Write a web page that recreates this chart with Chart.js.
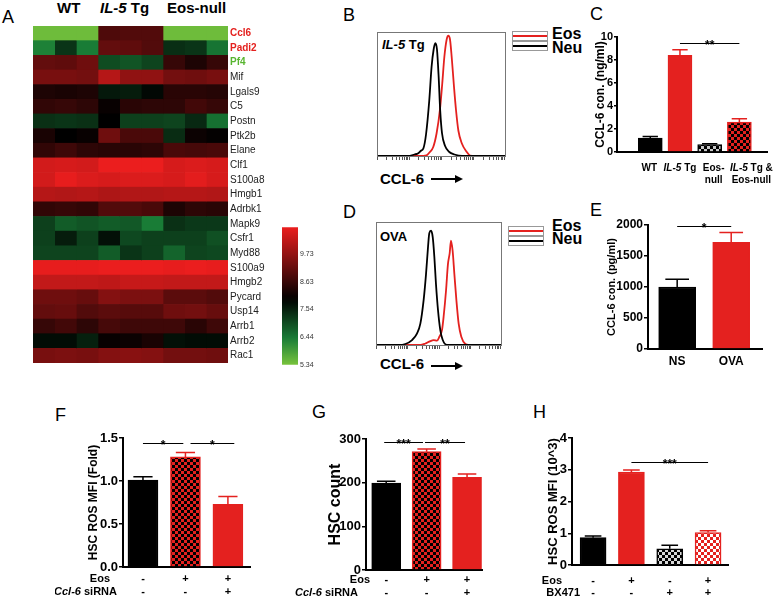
<!DOCTYPE html>
<html>
<head>
<meta charset="utf-8">
<script src="https://cdn.jsdelivr.net/npm/chart.js@4.4.0/dist/chart.umd.min.js"></script>
<style>
body{margin:0;width:777px;height:600px;position:relative;background:#fff;overflow:hidden;font-family:"Liberation Sans",Arial,sans-serif}
.p{position:absolute}
.t{position:absolute;line-height:1;white-space:nowrap;color:#000}
.L{font-size:18px}
.b{font-weight:bold}
.arrow{position:absolute;width:25px;height:2px;background:#000}
.arrow:after{content:"";position:absolute;right:-7px;top:-3px;border-left:8px solid #000;border-top:4px solid transparent;border-bottom:4px solid transparent}
.sw{position:absolute;width:34px;height:8px;border:1px solid #999;background:#fff}
.sw i{position:absolute;left:0;right:0;top:3px;height:2px}
</style>
</head>
<body>

<!-- panel letters and free text -->
<div class="t L" style="left:2px;top:8px">A</div>
<div class="t L" style="left:343px;top:6px">B</div>
<div class="t L" style="left:590px;top:5px">C</div>
<div class="t L" style="left:343px;top:203px">D</div>
<div class="t L" style="left:590px;top:201px">E</div>
<div class="t L" style="left:55px;top:406px">F</div>
<div class="t L" style="left:312px;top:403px">G</div>
<div class="t L" style="left:533px;top:403px">H</div>

<div class="t b" style="left:57px;top:0px;font-size:15px">WT</div>
<div class="t b" style="left:100px;top:0px;font-size:15px"><i>IL-5</i> Tg</div>
<div class="t b" style="left:167px;top:0px;font-size:15px">Eos-null</div>

<div class="t b" style="left:382px;top:38px;font-size:13px"><i>IL-5</i> Tg</div>
<div class="t b" style="left:380px;top:230px;font-size:13px">OVA</div>
<div class="t b" style="left:380px;top:171px;font-size:15px">CCL-6</div>
<div class="arrow" style="left:431px;top:178px"></div>
<div class="t b" style="left:380px;top:356px;font-size:15px">CCL-6</div>
<div class="arrow" style="left:431px;top:365px"></div>

<div class="sw" style="left:512px;top:31px"><i style="background:#e4211f"></i></div>
<div class="sw" style="left:512px;top:41px"><i style="background:#000"></i></div>
<div class="t b" style="left:552px;top:26px;font-size:16px">Eos</div>
<div class="t b" style="left:552px;top:40px;font-size:16px">Neu</div>

<div class="sw" style="left:508px;top:226px"><i style="background:#e4211f"></i></div>
<div class="sw" style="left:508px;top:236px"><i style="background:#000"></i></div>
<div class="t b" style="left:552px;top:218px;font-size:16px">Eos</div>
<div class="t b" style="left:552px;top:231px;font-size:16px">Neu</div>

<div class="p" style="left:33px;top:18px;width:245px;height:353px"><canvas id="hm"></canvas></div>
<div class="p" style="left:282px;top:221px;width:40px;height:150px"><canvas id="cb"></canvas></div>
<div class="p" style="left:377px;top:32px;width:129px;height:129px"><canvas id="hb"></canvas></div>
<div class="p" style="left:376px;top:222px;width:126px;height:128px"><canvas id="hd"></canvas></div>
<div class="p" style="left:593px;top:20px;width:184px;height:172px"><canvas id="bc"></canvas></div>
<div class="p" style="left:605px;top:205px;width:161px;height:169px"><canvas id="be"></canvas></div>
<div class="p" style="left:55px;top:420px;width:199px;height:182px"><canvas id="bf"></canvas></div>
<div class="p" style="left:295px;top:420px;width:191px;height:185px"><canvas id="bg"></canvas></div>
<div class="p" style="left:536px;top:420px;width:196px;height:180px"><canvas id="bh"></canvas></div>

<script>
// ---- data ----
genes = ['Ccl6','Padi2','Pf4','Mif','Lgals9','C5','Postn','Ptk2b','Elane','Clf1','S100a8','Hmgb1',
         'Adrbk1','Mapk9','Csfr1','Myd88','S100a9','Hmgb2','Pycard','Usp14','Arrb1','Arrb2','Rac1']

wtExpr = [[5.45,5.45,5.45],[6.33,7.3,6.4],[9.15,9.1,9.3],[9.4,9.4,9.35],[8.3,8.25,8.3],[8.55,8.6,8.5],
          [7.35,7.3,7.35],[8.25,7.95,8.05],[8.55,8.7,8.5],[10.5,10.55,10.5],[10.5,10.75,10.6],[10.15,10.1,10.15],
          [8.55,8.6,8.55],[7.15,6.8,6.9],[7.15,7.6,7.15],[7.1,7.1,7.1],[10.75,10.75,10.75],[10.3,10.3,10.3],
          [9.3,9.3,9.2],[9.15,9.2,8.95],[8.6,8.75,8.5],[7.8,7.8,7.55],[9.4,9.45,9.4]]
il5Expr = [[8.9,8.95,8.95],[9.15,9.1,8.95],[7.0,6.9,7.1],[10.15,9.7,9.7],[7.65,7.6,7.85],[8.05,8.45,8.5],
           [7.95,7.15,7.15],[9.3,8.85,8.85],[8.45,8.45,8.5],[10.8,10.8,10.8],[10.55,10.6,10.6],[10.05,10.1,10.1],
           [8.95,8.95,8.85],[6.8,6.85,6.4],[7.75,7.05,7.15],[6.8,7.3,7.15],[10.8,10.8,10.8],[10.25,10.35,10.35],
           [9.55,9.45,9.45],[9.05,9.0,9.0],[8.8,8.7,8.7],[8.05,8.1,8.25],[9.55,9.6,9.55]]
eosNullExpr = [[5.45,5.45,5.45],[7.37,7.3,6.5],[8.6,8.3,8.6],[9.35,9.3,9.4],[8.45,8.45,8.4],[8.5,8.75,8.6],
               [7.1,7.45,6.55],[7.4,8.1,8.0],[8.85,8.8,8.85],[10.55,10.6,10.55],[10.55,10.7,10.55],[10.15,10.15,10.1],
               [8.3,8.5,8.45],[7.35,7.25,7.25],[7.15,7.15,6.95],[6.7,7.1,7.05],[10.75,10.8,10.75],[10.3,10.3,10.3],
               [9.05,9.05,8.95],[9.3,9.35,9.2],[8.7,8.45,8.7],[7.75,7.8,7.8],[9.35,9.35,9.3]]

scaleMin = 5.34
scaleMax = 10.8
scaleTicks = [5.34,6.44,7.54,8.63,9.73]

// flow histograms, x = % of channel range, y = % of max
bNeu = [[0,0.8],[24,0.8],[29,2],[32,3],[34,5],[36,7],[38,18],[40.5,45],[42.3,72],[43.9,86],[45.2,91],[46.5,86],
        [47.8,64],[49,37],[50.4,19],[52.7,9],[56,4],[60,2],[66,0.8],[100,0.8]]
bEos = [[0,0.8],[36,0.8],[38.4,1.3],[41,4],[43.6,8],[46.2,19],[48.8,38],[50.6,59],[52.2,80],[54,94],[55.3,97],
        [56.6,94],[57.9,80],[59.7,56],[61.3,37],[63.1,21],[65.7,11],[69.6,4],[72.2,1],[76,0.8],[100,0.8]]
dNeu = [[0,0.8],[18,0.8],[23.3,1.6],[28.6,4.8],[32.5,10],[35.2,18],[37.8,37],[39.7,58],[41.3,80],[42.3,91],
        [43.7,93],[45,88],[46.3,72],[47.6,50],[49.2,29],[51,13],[52.9,5],[56.3,0.8],[100,0.8]]
dEos = [[0,0.8],[35.2,0.8],[39.2,2],[42.3,3.5],[45.8,4.8],[48.4,4.3],[50.3,7.5],[52.4,13],[53.7,24],[55.6,45],
        [57.1,66],[58.5,75],[59.5,85],[60.8,77],[62.2,58],[63.8,37],[65.6,18],[67.7,7.5],[70.9,1.6],[73.5,0.8],[100,0.8]]

cLabels1 = ['WT',[['IL-5',1],[' Tg',0]],'Eos-',[['IL-5',1],[' Tg &',0]]]
cLabels2 = ['','','null','Eos-null']
cValues  = [1.2,8.4,0.65,2.6]
cErrors  = [1.35,8.9,0.72,2.9]
cTicks   = [0,2,4,6,8,10]

eLabels  = ['NS','OVA']
eValues  = [1000,1720]
eErrors  = [1125,1880]
eTicks   = [0,500,1000,1500,2000]

fEos     = ['-','+','+']
fSiRNA   = ['-','-','+']
fValues  = [1.01,1.28,0.73]
fErrors  = [1.05,1.33,0.82]
fTicks   = [0,0.5,1.0,1.5]

gEos     = ['-','+','+']
gSiRNA   = ['-','-','+']
gValues  = [199,271,212]
gErrors  = [203,277,220]
gTicks   = [0,100,200,300]

hEos     = ['-','+','-','+']
hBX471   = ['-','-','+','+']
hValues  = [0.86,2.93,0.51,1.02]
hErrors  = [0.91,2.99,0.62,1.08]
hTicks   = [0,1,2,3,4]

// ---- styling helpers ----
FONT = '"Liberation Sans", Arial, sans-serif'
Chart.defaults.font.family = FONT
Chart.defaults.color = '#000'
RED = '#e4211f'

function heat(v){
    const mid = 7.95
    if(v >= mid){
        const t = Math.min(1,(v-mid)/(scaleMax-mid))
        return 'rgb('+Math.round(235*t)+','+Math.round(30*t)+','+Math.round(30*t)+')'
    }
    const t = Math.min(1,(mid-v)/(mid-scaleMin))
    if(t < 0.6){
        const k = t/0.6
        return 'rgb('+Math.round(25*k)+','+Math.round(125*k)+','+Math.round(55*k)+')'
    }
    const k = (t-0.6)/0.4
    return 'rgb('+Math.round(25+95*k)+','+Math.round(125+70*k)+','+Math.round(55+5*k)+')'
}

function checker(ctx,a,b,s){
    const tile = document.createElement('canvas'); tile.width = tile.height = 2*s
    const g = tile.getContext('2d')
    g.fillStyle = a; g.fillRect(0,0,2*s,2*s)
    g.fillStyle = b; g.fillRect(0,0,s,s); g.fillRect(s,s,s,s)
    return ctx.createPattern(tile,'repeat')
}

function rich(ctx,parts,x,y,align,size){
    if(typeof parts === 'string') parts = [[parts,0]]
    const fonts = parts.map(p => (p[1]?'italic ':'')+'bold '+size+'px '+FONT)
    const ws = parts.map((p,i) => {ctx.font = fonts[i]; return ctx.measureText(p[0]).width})
    const total = ws.reduce((s,w) => s+w,0)
    let cx = align==='center' ? x-total/2 : align==='right' ? x-total : x
    ctx.textAlign = 'left'; ctx.textBaseline = 'middle'; ctx.fillStyle = '#000'
    parts.forEach((p,i) => {ctx.font = fonts[i]; ctx.fillText(p[0],cx,y); cx += ws[i]})
}

// error bars, significance lines and the rows of labels under the bars
marks = {
    id:'marks',
    afterDatasetsDraw(chart,args,o){
        const ctx = chart.ctx, xs = chart.scales.x, ys = chart.scales.y
        const ds = chart.data.datasets[0], meta = chart.getDatasetMeta(0)
        ctx.save()
        ctx.lineWidth = 1.5
        ds.err.forEach((e,i) => {
            const bar = meta.data[i], yTop = ys.getPixelForValue(e), w = bar.width*0.32
            ctx.strokeStyle = ds.borderColor[i]
            ctx.beginPath(); ctx.moveTo(bar.x,bar.y); ctx.lineTo(bar.x,yTop)
            ctx.moveTo(bar.x-w,yTop); ctx.lineTo(bar.x+w,yTop); ctx.stroke()
        })
        ctx.strokeStyle = '#000'; ctx.lineWidth = 1.2
        ;(o.sig||[]).forEach(s => {
            const x1 = xs.getPixelForValue(s.a), x2 = xs.getPixelForValue(s.b)
            const yy = Math.round(ys.getPixelForValue(s.y))+0.5
            ctx.beginPath(); ctx.moveTo(x1,yy); ctx.lineTo(x2,yy); ctx.stroke()
            ctx.font = 'bold 12px '+FONT; ctx.fillStyle = '#000'; ctx.textAlign = 'center'; ctx.textBaseline = 'alphabetic'
            ctx.fillText(s.text,(x1+x2)/2,yy+5)
        })
        ;(o.rows||[]).forEach((row,r) => {
            const yy = ys.bottom + o.rowY[r]
            row.forEach((parts,i) => rich(ctx,parts,xs.getPixelForValue(i+1)+((o.shift||[])[i]||0),yy,'center',o.size))
            if(o.titles) rich(ctx,o.titles[r],xs.left+o.titleDx[r],yy,'right',o.size)
        })
        ctx.restore()
    }
}

frame = {
    id:'frame',
    afterDraw(chart){
        const ca = chart.chartArea, c = chart.ctx
        c.save(); c.strokeStyle = '#777'; c.lineWidth = 1
        c.strokeRect(ca.left+0.5,ca.top+0.5,ca.right-ca.left-1,ca.bottom-ca.top-1)
        c.restore()
    }
}

base = {responsive:true, maintainAspectRatio:false, animation:false, devicePixelRatio:1,
        plugins:{legend:{display:false}, tooltip:{enabled:false}}}

// ---- A: heatmap ----
expr = genes.map((g,i) => wtExpr[i].concat(il5Expr[i], eosNullExpr[i]))
geneColor = ['#e4211f','#e4211f','#58b530']
new Chart(document.getElementById('hm'), {
    type:'bar',
    data:{labels:genes, datasets:[0,1,2,3,4,5,6,7,8].map(j => ({
        data:genes.map(() => 1),
        backgroundColor:genes.map((g,i) => heat(expr[i][j])),
        borderWidth:0, barPercentage:1, categoryPercentage:1
    }))},
    options:Object.assign({}, base, {
        indexAxis:'y',
        scales:{
            x:{stacked:true, display:false, min:0, max:9},
            y:{stacked:true, position:'right', grid:{display:false, drawTicks:false}, border:{display:false},
               ticks:{autoSkip:false, padding:2, color:c => geneColor[c.index] || '#222',
                      font:c => ({size:10, weight:c.index < 3 ? 'bold' : 'normal'})},
               afterFit:s => {s.width = 50}}
        }
    })
})

// colour scale
new Chart(document.getElementById('cb'), {
    type:'bar',
    data:{labels:[''], datasets:[{
        data:[[scaleMin,scaleMax]], borderWidth:0, barPercentage:1, categoryPercentage:1,
        backgroundColor:c => {
            const ca = c.chart.chartArea
            if(!ca) return '#000'
            const gr = c.chart.ctx.createLinearGradient(0,ca.bottom,0,ca.top)
            for(let n=0;n<=20;n++) gr.addColorStop(n/20, heat(scaleMin+(scaleMax-scaleMin)*n/20))
            return gr
        }
    }]},
    options:Object.assign({}, base, {
        scales:{
            x:{display:false},
            y:{position:'right', min:scaleMin, max:scaleMax, grid:{display:false, drawTicks:false}, border:{display:false},
               afterBuildTicks:s => {s.ticks = scaleTicks.map(v => ({value:v}))},
               ticks:{font:{size:7}, color:'#333', padding:2, callback:v => v.toFixed(2)},
               afterFit:s => {s.width = 24}}
        }
    })
})

// ---- B, D: histograms ----
logTicks = []
for(let d=0;d<4;d++) for(let k=1;k<10;k++) logTicks.push((d+Math.log10(k))*25)

function hist(id, neu, eos){
    new Chart(document.getElementById(id), {
        type:'line',
        data:{datasets:[
            {data:neu.map(p => ({x:p[0], y:p[1]})), borderColor:'#000'},
            {data:eos.map(p => ({x:p[0], y:p[1]})), borderColor:RED}
        ].map(d => Object.assign(d, {borderWidth:1.8, pointRadius:0, cubicInterpolationMode:'monotone', fill:false}))},
        options:Object.assign({}, base, {
            scales:{
                x:{type:'linear', min:0, max:100, border:{display:false},
                   afterBuildTicks:s => {s.ticks = logTicks.map(v => ({value:v}))},
                   ticks:{display:false}, grid:{drawOnChartArea:false, tickLength:3, color:'#555'},
                   afterFit:s => {s.height = 4}},
                y:{display:false, min:0, max:100}
            }
        }),
        plugins:[frame]
    })
}
hist('hb', bNeu, bEos)
hist('hd', dNeu, dEos)

// ---- C, E, F, G, H: bar charts ----
function bars(id, o){
    const ctx = document.getElementById(id).getContext('2d')
    const fills = o.fills.map(f => Array.isArray(f) ? checker(ctx,f[0],f[1],3) : f)
    new Chart(ctx, {
        type:'bar',
        data:{datasets:[{
            data:o.values.map((v,i) => ({x:i+1, y:v})),
            err:o.errs, backgroundColor:fills, borderColor:o.lines,
            borderWidth:1.5, barThickness:o.bw
        }]},
        options:Object.assign({}, base, {
            layout:{padding:{top:o.pad[0], right:o.pad[1], left:o.pad[2], bottom:0}},
            plugins:{legend:{display:false}, tooltip:{enabled:false},
                     marks:{sig:o.sig, rows:o.rows, rowY:o.rowY, shift:o.shift, titles:o.titles, titleDx:o.titleDx, size:o.lsize}},
            scales:{
                x:{type:'linear', offset:false, min:o.xr[0], max:o.xr[1], grid:{display:false}, ticks:{display:false},
                   border:{color:'#000', width:2}, afterFit:s => {s.height = o.xh}},
                y:{min:0, max:o.ticks[o.ticks.length-1],
                   afterBuildTicks:s => {s.ticks = o.ticks.map(v => ({value:v}))},
                   ticks:{font:{size:o.tsize, weight:'bold'}, color:'#000', padding:1,
                          callback:v => o.dec ? v.toFixed(o.dec) : v},
                   grid:{drawOnChartArea:false, color:'#000', lineWidth:1.5, tickLength:o.tl || 4},
                   border:{color:'#000', width:2},
                   title:{display:true, text:o.title, color:'#000', padding:0, font:{size:o.ysize, weight:'bold'}},
                   afterFit:s => {s.width = o.yw}}
            }
        }),
        plugins:[marks]
    })
}

bars('bc', {values:cValues, errs:cErrors, ticks:cTicks, title:'CCL-6 con. (ng/ml)',
    fills:['#000',RED,['#000','#c8c8c8'],[RED,'#000']], lines:['#000',RED,'#000',RED],
    bw:24, xr:[-0.12,4.93], pad:[17,10,0], yw:24, xh:40, tsize:11, ysize:12, lsize:10, tl:3,
    sig:[{a:2,b:4,y:9.5,text:'**'}],
    rows:[cLabels1,cLabels2], rowY:[16,28], shift:[-1,0,4,12]})

bars('be', {values:eValues, errs:eErrors, ticks:eTicks, title:'CCL-6 con. (pg/ml)',
    fills:['#000',RED], lines:['#000',RED],
    bw:37, xr:[0.46,2.57], pad:[20,4,0], yw:43, xh:25, tsize:12, ysize:11, lsize:12,
    sig:[{a:1,b:2,y:1990,text:'*'}],
    rows:[eLabels], rowY:[13]})

bars('bf', {values:fValues, errs:fErrors, ticks:fTicks, dec:1, title:'HSC ROS MFI (Fold)',
    fills:['#000',[RED,'#000'],RED], lines:['#000',RED,RED],
    bw:30, xr:[0.53,3.52], pad:[18,4,31], yw:37, xh:35, tsize:13, ysize:12, lsize:11,
    sig:[{a:1,b:1.95,y:1.44,text:'*'},{a:2.12,b:3.15,y:1.44,text:'*'}],
    rows:[fEos,fSiRNA], rowY:[12,25], titles:['Eos',[['Ccl-6',1],[' siRNA',0]]], titleDx:[-13,-6]})

bars('bg', {values:gValues, errs:gErrors, ticks:gTicks, title:'HSC count',
    fills:['#000',[RED,'#000'],RED], lines:['#000',RED,RED],
    bw:29, xr:[0.5,3.37], pad:[19,4,31], yw:40, xh:35, tsize:13, ysize:16, lsize:11,
    sig:[{a:0.95,b:1.91,y:293,text:'***'},{a:1.96,b:2.95,y:293,text:'**'}],
    rows:[gEos,gSiRNA], rowY:[10,23], titles:['Eos',[['Ccl-6',1],[' siRNA',0]]], titleDx:[4,-8]})

bars('bh', {values:hValues, errs:hErrors, ticks:hTicks, title:'HSC ROS MFI (10^3)',
    fills:['#000',RED,['#000','#d8d8d8'],[RED,'#fff']], lines:['#000',RED,'#000',RED],
    bw:26, xr:[0.45,4.52], pad:[18,4,10], yw:26, xh:35, tsize:13, ysize:13, lsize:11,
    sig:[{a:2,b:4,y:3.24,text:'***'}],
    rows:[hEos,hBX471], rowY:[16,28], titles:['Eos','BX471'], titleDx:[-10,8]})
</script>
</body>
</html>
